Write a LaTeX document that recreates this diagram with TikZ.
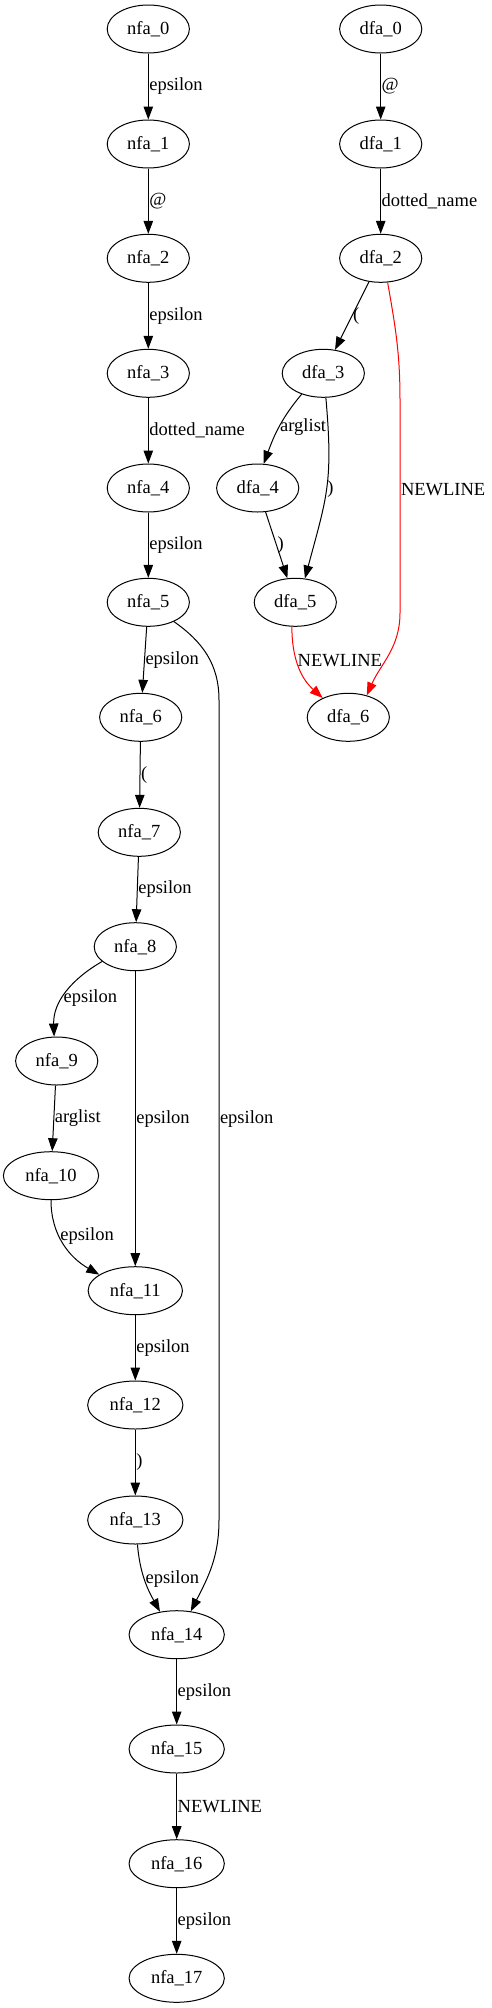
\documentclass[tikz,border=0pt]{standalone}
\usepackage{fontspec}
\setmainfont{Liberation Serif}
\usetikzlibrary{arrows.meta,shapes.geometric}
\tikzset{
  state/.style={draw, ellipse, line width=1pt, minimum width=82pt, minimum height=48pt,
    inner xsep=8pt, inner ysep=2pt, font=\fontsize{18.5}{22}\selectfont},
  edge/.style={-{Triangle[length=13pt,width=9.5pt]}, line width=1pt},
  redge/.style={edge, red},
  lbl/.style={anchor=west, inner sep=0.5pt, text=black, font=\fontsize{18.5}{22}\selectfont},
}
\begin{document}
\begin{tikzpicture}[x=1pt, y=1pt, line join=round]
  \useasboundingbox (0,0) rectangle (491,-2008);
  % nfa states
  \foreach \n/\x/\y in {0/148.3/29, 1/148.3/144, 2/148.3/258.3, 3/148.3/373.3, 4/148.3/488,
      5/148.3/602.3, 6/140.7/717.3, 7/139.3/832.3, 8/135.3/946.7, 9/56.7/1061, 10/51/1175.7,
      11/135.3/1290.7, 12/135.3/1405, 13/135.3/1520, 14/176.7/1634.7, 15/176.7/1749,
      16/176.7/1863.7, 17/176.7/1978.3}
    \node[state] (n\n) at (\x,-\y) {nfa\_\n};
  % dfa states
  \foreach \n/\x/\y in {0/380.7/29, 1/380.7/144, 2/380.7/258.3, 3/323.3/373.3, 4/257.7/488,
      5/295.3/602.3, 6/348.3/717.3}
    \node[state] (d\n) at (\x,-\y) {dfa\_\n};
  % bends of the long edges
  \coordinate (b1) at (219,-700);
  \coordinate (b2) at (219,-1520);
  \coordinate (r1) at (400,-400);
  \coordinate (r2) at (400,-613);
  % straight edges
  \foreach \a/\b/\t in {0/1/epsilon, 1/2/@, 2/3/epsilon, 3/4/dotted\_name, 4/5/epsilon,
      5/6/epsilon, 6/7/{(}, 7/8/epsilon, 8/11/epsilon, 9/10/arglist, 11/12/epsilon,
      12/13/{)}, 14/15/epsilon, 15/16/NEWLINE, 16/17/epsilon}
    \draw[edge] (n\a) -- node[lbl] (ln\a) {\t} (n\b);
  \foreach \a/\b/\t in {0/1/@, 1/2/dotted\_name, 2/3/{(}, 4/5/{)}}
    \draw[edge] (d\a) -- node[lbl] (ld\a) {\t} (d\b);
  % curved edges
  \draw[edge] (n5.-37) to[out=-35,in=90] (b1) -- node[lbl,pos=0.511] (le1) {epsilon} (b2)
    to[out=-90,in=63] (n14.59);
  \draw[edge] (n8.-156) to[out=-150,in=92] node[lbl,pos=0.58] (le2) {epsilon} (n9.96);
  \draw[edge] (n10.-90) to[out=-90,in=150] node[lbl,pos=0.4] (le3) {epsilon} (n11.156);
  \draw[edge] (n13.-85) to[out=-85,in=119] node[lbl] (le4) {epsilon} (n14.126);
  \draw[edge] (d3.-136) to[out=-130,in=70] node[lbl] (la1) {arglist} (d4.76);
  \draw[edge] (d3.-84) to[out=-85,in=75,looseness=1.2] node[lbl] (la2) {)} (d5.68);
  \draw[redge] (d2.-74) to[out=-80,in=90] (r1) -- node[lbl,pos=0.42] (la3) {NEWLINE} (r2)
    to[out=-90,in=66] (d6.50);
  \draw[redge] (d5.-98) to[out=-90,in=138] node[lbl,pos=0.42] (la4) {NEWLINE} (d6.143);
\end{tikzpicture}
\end{document}
